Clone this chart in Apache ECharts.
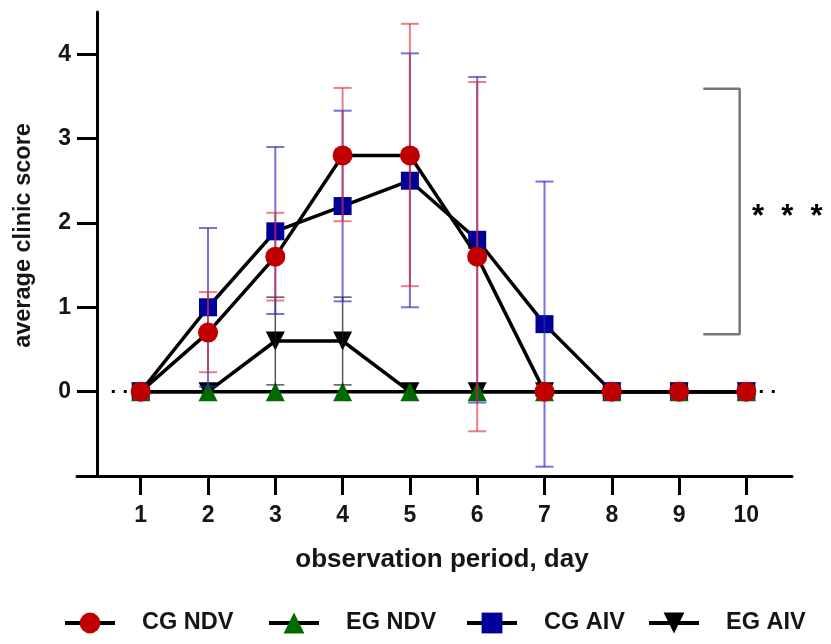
<!DOCTYPE html>
<html>
<head>
<meta charset="utf-8">
<script src="https://cdn.jsdelivr.net/npm/echarts@6/dist/echarts.min.js"></script>
<style>
    html, body { margin: 0; padding: 0; background: #fff; }
    #chart { width: 831px; height: 644px; }
</style>
</head>
<body>
<div id="chart"></div>
<script>
    var days = [1, 2, 3, 4, 5, 6, 7, 8, 9, 10];
    var yTicks = [0, 1, 2, 3, 4];

    // mean scores and error bar ends per group
    var cgNdv = [0, 0.7, 1.6, 2.8, 2.8, 1.6, 0, 0, 0, 0];
    var cgNdvLow = [0, 0.23, 1.08, 2.02, 1.25, -0.47, 0, 0, 0, 0];
    var cgNdvHigh = [0, 1.18, 2.12, 3.6, 4.36, 3.67, 0, 0, 0, 0];

    var egNdv = [0, 0, 0, 0, 0, 0, 0, 0, 0, 0];

    var cgAiv = [0, 1.0, 1.9, 2.2, 2.5, 1.8, 0.8, 0, 0, 0];
    var cgAivLow = [0, 0.06, 0.92, 1.07, 1.0, -0.13, -0.89, 0, 0, 0];
    var cgAivHigh = [0, 1.94, 2.9, 3.33, 4.01, 3.73, 2.49, 0, 0, 0];

    var egAiv = [0, 0, 0.6, 0.6, 0, 0, 0, 0, 0, 0];
    var egAivLow = [0, 0, 0.08, 0.08, 0, 0, 0, 0, 0, 0];
    var egAivHigh = [0, 0, 1.12, 1.12, 0, 0, 0, 0, 0, 0];

    // significance bracket (x from, x to, y top, y bottom)
    var bracketX = [9.36, 9.9];
    var bracketY = [3.59, 0.68];

    var font = "'Liberation Sans', Arial, sans-serif";
    var ink = '#151515';

    function pairs(ys) {
        return days.map(function (d, i) { return [d, ys[i]]; });
    }
    function barData(low, high) {
        var out = [];
        days.forEach(function (d, i) {
            if (high[i] !== low[i]) out.push([d, low[i], high[i]]);
        });
        return out;
    }
    function errorBars(name, low, high, color, width) {
        return {
            type: 'custom',
            name: name + ' err',
            z: 5,
            silent: true,
            data: barData(low, high),
            encode: { x: 0, y: [1, 2] },
            renderItem: function (params, api) {
                var lo = api.coord([api.value(0), api.value(1)]);
                var hi = api.coord([api.value(0), api.value(2)]);
                var cap = 9;
                var st = { stroke: color, lineWidth: width };
                return {
                    type: 'group',
                    children: [
                        { type: 'line', shape: { x1: lo[0], y1: lo[1], x2: hi[0], y2: hi[1] }, style: st },
                        { type: 'line', shape: { x1: lo[0] - cap, y1: lo[1], x2: lo[0] + cap, y2: lo[1] }, style: st },
                        { type: 'line', shape: { x1: hi[0] - cap, y1: hi[1], x2: hi[0] + cap, y2: hi[1] }, style: st }
                    ]
                };
            }
        };
    }
    function lineSeries(name, ys, symbol, size, color, z, rotate) {
        return {
            type: 'line',
            name: name,
            data: pairs(ys),
            symbol: symbol,
            symbolSize: size,
            symbolRotate: rotate || 0,
            showAllSymbol: true,
            z: z,
            lineStyle: { color: '#000', width: 3.5 },
            itemStyle: { color: color, opacity: 1 },
            emphasis: { disabled: true }
        };
    }
    function legendAt(name, left) {
        return {
            data: [name],
            left: left,
            top: 606,
            itemWidth: 50,
            itemHeight: 26,
            selectedMode: false,
            lineStyle: { color: '#000', width: 4 },
            textStyle: { fontFamily: font, fontWeight: 'bold', fontSize: 23.5, color: ink, padding: [0, 0, 0, 22] }
        };
    }

    var chart = echarts.init(document.getElementById('chart'));

    var egAivLine = lineSeries('EG AIV', egAiv, 'triangle', 19, '#000', 2, 180);
    egAivLine.markLine = {
        silent: true,
        symbol: 'none',
        label: { show: false },
        lineStyle: { color: '#000', width: 3, type: [3, 9] },
        data: [[{ coord: [0.57, 0] }, { coord: [10.46, 0] }]],
        z: 1
    };

    chart.setOption({
        animation: false,
        backgroundColor: '#fff',
        grid: { left: 77, right: 39, top: 12, bottom: 168, containLabel: false },
        xAxis: {
            type: 'value',
            min: 0.053,
            max: 10.678,
            name: 'observation period, day',
            nameLocation: 'middle',
            nameGap: 71,
            nameTextStyle: { fontFamily: font, fontWeight: 'bold', fontSize: 26, color: ink, padding: [0, 0, 0, 15] },
            splitLine: { show: false },
            axisLine: { show: true, onZero: false, lineStyle: { color: '#000', width: 3 } },
            axisTick: { show: true, length: 19, lineStyle: { color: '#000', width: 3 }, customValues: days },
            axisLabel: { fontFamily: font, fontWeight: 'bold', fontSize: 23, color: ink, margin: 28, customValues: days }
        },
        yAxis: {
            type: 'value',
            min: -1,
            max: 4.5,
            offset: -20,
            name: 'average clinic score',
            nameLocation: 'middle',
            nameGap: 61,
            nameTextStyle: { fontFamily: font, fontWeight: 'bold', fontSize: 23.5, color: ink, padding: [0, 0, 0, 17] },
            splitLine: { show: false },
            axisLine: { show: true, onZero: false, lineStyle: { color: '#000', width: 3 } },
            axisTick: { show: true, length: 20, lineStyle: { color: '#000', width: 3 }, customValues: yTicks },
            axisLabel: { fontFamily: font, fontWeight: 'bold', fontSize: 23, color: ink, margin: 26, customValues: yTicks }
        },
        legend: [
            legendAt('CG NDV', 58),
            legendAt('EG NDV', 262),
            legendAt('CG AIV', 460),
            legendAt('EG AIV', 642)
        ],
        graphic: [{
            type: 'text',
            left: 752,
            top: 202,
            style: { text: '*  *  *', fontFamily: font, fontWeight: 'bold', fontSize: 31, fill: '#000' }
        }],
        series: [
            egAivLine,
            lineSeries('CG AIV', cgAiv, 'rect', 18, '#000099', 3),
            lineSeries('EG NDV', egNdv, 'triangle', 19, '#006a00', 4),
            lineSeries('CG NDV', cgNdv, 'circle', 20, '#c00000', 5),
            errorBars('EG AIV', egAivLow, egAivHigh, 'rgba(30,30,30,0.75)', 1.5),
            errorBars('CG AIV', cgAivLow, cgAivHigh, 'rgba(40,40,200,0.65)', 2),
            errorBars('CG NDV', cgNdvLow, cgNdvHigh, 'rgba(225,40,50,0.6)', 2),
            {
                type: 'line',
                name: 'bracket',
                silent: true,
                symbol: 'none',
                z: 1,
                lineStyle: { color: '#777', width: 2.5 },
                data: [
                    [bracketX[0], bracketY[0]],
                    [bracketX[1], bracketY[0]],
                    [bracketX[1], bracketY[1]],
                    [bracketX[0], bracketY[1]]
                ]
            }
        ]
    });
</script>
</body>
</html>
